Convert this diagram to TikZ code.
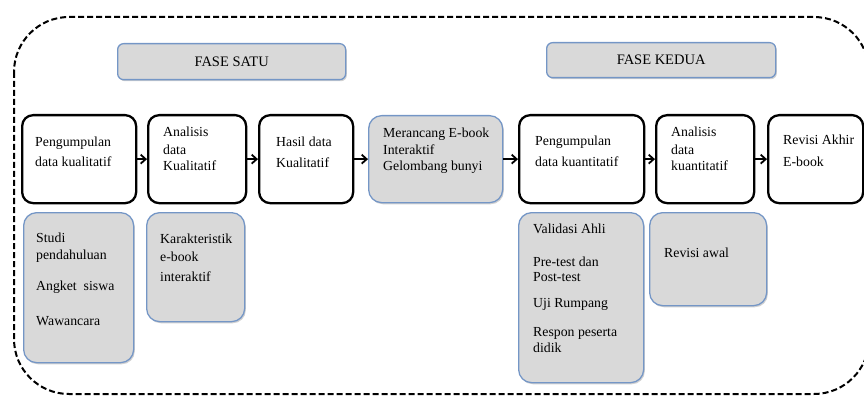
\documentclass[tikz,border=0pt]{standalone}
\usepackage{fontspec}
\setmainfont{Liberation Serif}
\usetikzlibrary{arrows.meta}
\definecolor{grayfill}{RGB}{217,217,217}
\definecolor{blueline}{RGB}{116,150,198}
\tikzset{
  blackbox/.style={draw=black, line width=2.3pt, rounded corners=11pt, fill=white, inner sep=0pt, anchor=north west},
  graybox/.style={draw=blueline, line width=1.3pt, rounded corners=13pt, fill=grayfill, inner sep=0pt, anchor=north west,
    preaction={fill=black, opacity=0.18, transform canvas={xshift=1.2pt,yshift=-1.6pt}}},
  fasebox/.style={draw=blueline, line width=1.3pt, rounded corners=6pt, fill=grayfill, inner sep=0pt, anchor=north west,
    font=\fontsize{14.5}{17}\selectfont,
    preaction={fill=black, opacity=0.18, transform canvas={xshift=1.2pt,yshift=-1.6pt}}},
  txt/.style={anchor=north west, inner sep=0pt, align=left, font=\fontsize{13.8}{16.5}\selectfont},
  arr/.style={line width=2pt, -{Straight Barb[length=5pt,width=9pt,line width=1.8pt]}},
  outer/.style={line width=2pt, dash pattern=on 6pt off 3pt, rounded corners=55pt}
}
\begin{document}
\begin{tikzpicture}[x=1pt,y=-1pt]
\useasboundingbox (0,0) rectangle (864,398);
% outer dashed frame
\draw[outer] (14,17) rectangle (869,394);
% phase headers
\node[fasebox, minimum width=228pt, minimum height=36pt] (f1) at (117,43) {FASE SATU};
\node[fasebox, minimum width=229pt, minimum height=35pt] (f2) at (546,42) {FASE KEDUA};
% main row
\node[blackbox, minimum width=114pt, minimum height=88pt] (b1) at (21,114) {};
\node[blackbox, minimum width=98pt, minimum height=88pt] (b2) at (147,114) {};
\node[blackbox, minimum width=94pt, minimum height=88pt] (b3) at (258,114) {};
\node[graybox, minimum width=134pt, minimum height=87pt] (b4) at (368,115) {};
\node[blackbox, minimum width=125pt, minimum height=88pt] (b5) at (518,114) {};
\node[blackbox, minimum width=98pt, minimum height=88pt] (b6) at (655,114) {};
\node[blackbox, minimum width=95pt, minimum height=88pt] (b7) at (767,114) {};
% lower boxes
\node[graybox, minimum width=110pt, minimum height=150pt] (l1) at (23,212) {};
\node[graybox, minimum width=98pt, minimum height=109pt] (l2) at (146,212) {};
\node[graybox, minimum width=125pt, minimum height=170pt] (l5) at (518,212) {};
\node[graybox, minimum width=117pt, minimum height=93pt] (l6) at (649,212) {};
% arrows
\draw[arr] (b1.east) -- (b2.west);
\draw[arr] (b2.east) -- (b3.west);
\draw[arr] (b3.east) -- (b4.west);
\draw[arr] (b4.east) -- (b5.west);
\draw[arr] (b5.east) -- (b6.west);
\draw[arr] (b6.east) -- (b7.west);
% texts
\node[txt] (t1) at (35,137) {Pengumpulan\\[3pt]data kualitatif};
\node[txt] (t2) at (163,127) {Analisis\\[1pt]data\\Kualitatif};
\node[txt] (t3) at (276,137) {Hasil data\\[4pt]Kualitatif};
\node[txt] (t4) at (383,128) {Merancang E-book\\Interaktif\\Gelombang bunyi};
\node[txt] (t5) at (535,136) {Pengumpulan\\[4pt]data kuantitatif};
\node[txt] (t6) at (671,127) {Analisis\\[1pt]data\\kuantitatif};
\node[txt] (t7) at (783,135) {Revisi Akhir\\[5pt]E-book};
\node[txt] (t8) at (36,233) {Studi\\pendahuluan\\[15pt]Angket\ \ siswa\\[18pt]Wawancara};
\node[txt] (t9) at (160,234) {Karakteristik\\[1pt]e-book\\[4pt]interaktif};
\node[txt] (t10) at (533,224) {Validasi Ahli\\[16pt]Pre-test dan\\[-1pt]Post-test\\[9pt]Uji Rumpang\\[13pt]Respon peserta\\[-1pt]didik};
\node[txt] (t11) at (664,248) {Revisi awal};
\end{tikzpicture}
\end{document}
